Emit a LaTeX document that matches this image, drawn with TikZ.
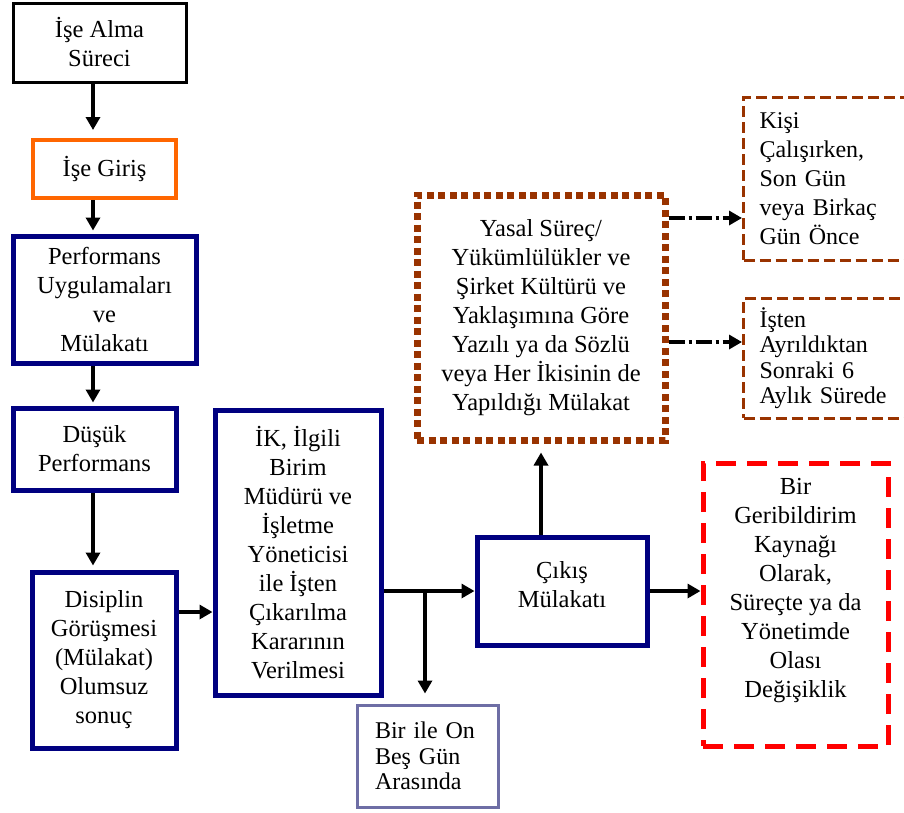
\documentclass[tikz,border=0pt]{standalone}
\usepackage{fontspec}
\setmainfont{Liberation Serif}
\usetikzlibrary{arrows.meta}

\definecolor{lacivert}{RGB}{0,0,128}
\definecolor{turuncu}{RGB}{255,102,0}
\definecolor{kahve}{RGB}{153,51,0}
\definecolor{kirmizi}{RGB}{255,0,0}
\definecolor{gri}{RGB}{110,110,165}

\begin{document}
\begin{tikzpicture}[x=1pt,y=-1pt, %Piksel birimi, y aşağı
	kutu/.style={draw, inner sep=0pt, align=center, font=\fontsize{24.5}{29}\selectfont},
	solkutu/.style={kutu, align=left, inner xsep=16pt, font=\fontsize{24}{25.5}\selectfont},
	mavi/.style={kutu, lacivert, line width=5pt, text=black},
	ok/.style={-{Triangle[length=13pt,width=14pt]}, line width=3.5pt},
	noktaliok/.style={ok, dash pattern=on 16pt off 4pt on 3pt off 4pt}]
	\clip (0,0) rectangle (904,812); %Sayfa
	\fill[white] (0,0) rectangle (904,812);
		%Sol sütun
	\node[kutu, line width=3pt, minimum width=173pt, minimum height=79pt] (alma) at (99.5,42.5) {İşe Alma\\Süreci};
	\node[kutu, turuncu, text=black, line width=4pt, minimum width=143pt, minimum height=58pt] (giris) at (104.5,169) {İşe Giriş};
	\node[mavi, minimum width=183pt, minimum height=127pt] (perf) at (104.5,299.5) {Performans\\Uygulamaları\\ve\\Mülakatı};
	\node[mavi, minimum width=163pt, minimum height=82pt] (dusuk) at (94.5,449) {Düşük\\Performans};
	\node[mavi, minimum width=144pt, minimum height=176pt] (disiplin) at (104,660) {Disiplin\\Görüşmesi\\(Mülakat)\\Olumsuz\\sonuç};
		%Orta
	\node[mavi, minimum width=166pt, minimum height=285pt] (ik) at (298,552.5) {İK, İlgili\\Birim\\Müdürü ve\\İşletme\\Yöneticisi\\ile İşten\\Çıkarılma\\Kararının\\Verilmesi};
	\node[mavi, minimum width=170pt, minimum height=108pt] (cikis) at (562,591) {Çıkış\\Mülakatı\\[-15pt]};
	\node[solkutu, gri, text=black, line width=3pt, text width=105pt, inner xsep=18pt, minimum height=102pt] (birile) at (427.5,756) {Bir ile On\\Beş Gün\\Arasında};
	\node[kutu, kahve, text=black, line width=7pt, dash pattern=on 7pt off 4.5pt, minimum width=248pt, minimum height=245pt] (yasal) at (541,317.5) {Yasal Süreç/\\Yükümlülükler ve\\Şirket Kültürü ve\\Yaklaşımına Göre\\Yazılı ya da Sözlü\\veya Her İkisinin de\\Yapıldığı Mülakat};
		%Sağ
	\node[solkutu, kahve, text=black, line width=3pt, dash pattern=on 11pt off 5pt, text width=138pt, minimum height=163pt, font=\fontsize{24}{29}\selectfont] (kisi) at (915,178.5) [anchor=east] {Kişi\\Çalışırken,\\Son Gün\\veya Birkaç\\Gün Önce};
	\node[solkutu, kahve, text=black, line width=3pt, dash pattern=on 11pt off 5pt, text width=138pt, minimum height=120pt] (isten) at (915,358) [anchor=east] {İşten\\Ayrıldıktan\\Sonraki 6\\Aylık Sürede};
	\node[kutu, kirmizi, text=black, line width=5pt, dash pattern=on 20pt off 11pt, minimum width=185pt, minimum height=283pt] (geri) at (795.5,604.5) {Bir\\Geribildirim\\Kaynağı\\Olarak,\\Süreçte ya da\\Yönetimde\\Olası\\Değişiklik\\[5pt]};
		%Oklar
	\coordinate (sutun) at (93,0);
	\coordinate (kol) at (425,591);
	\draw[ok, shorten >=8pt] (alma.south -| sutun) -- (giris.north -| sutun);
	\draw[ok, shorten >=3pt] (giris.south -| sutun) -- (perf.north -| sutun);
	\draw[ok, shorten >=3pt] (perf.south -| sutun) -- (dusuk.north -| sutun);
	\draw[ok, shorten >=4pt] (dusuk.south -| sutun) -- (disiplin.north -| sutun);
	\draw[ok] ([yshift=48pt]disiplin.east) -- ([yshift=48pt]disiplin.east -| ik.west);
	\draw[ok] (cikis.west -| ik.east) -- (cikis.west);
	\draw[ok, shorten >=10pt] (kol) -- (kol |- birile.north);
	\draw[ok, shorten >=9pt] (cikis.north -| yasal) -- (yasal.south);
	\draw[ok] (cikis.east) -- (cikis.east -| geri.west);
	\draw[noktaliok] ([yshift=99.5pt]yasal.east) -- ([yshift=99.5pt]yasal.east -| kisi.west);
	\draw[noktaliok] ([yshift=-24.5pt]yasal.east) -- ([yshift=-24.5pt]yasal.east -| isten.west);
\end{tikzpicture}
\end{document}
